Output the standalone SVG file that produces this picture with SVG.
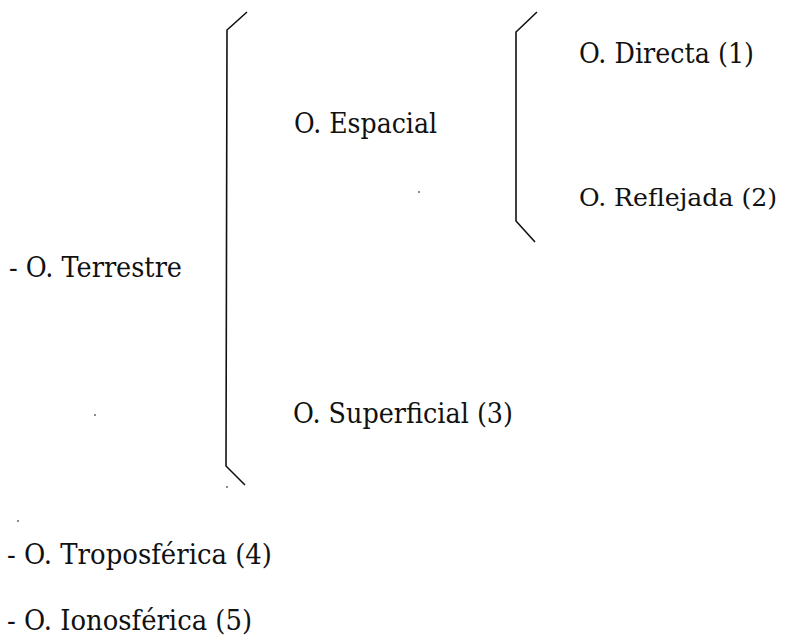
<svg xmlns="http://www.w3.org/2000/svg" width="786" height="643" viewBox="0 0 786 643">
<style>
.t{font-family:"DejaVu Serif","Liberation Serif",serif;font-size:27px;fill:#111}
.s{font-size:25px}
.b{fill:none;stroke:#111;stroke-width:1.6;stroke-linejoin:miter}
.d{fill:#555}
</style>
<rect width="786" height="643" fill="#fff"/>
<g id="connectors">
<path class="b" d="M247,12 L227,30 L226,466 L245,485"/>
<path class="b" d="M537,12 L516,32 L516,221 L535,242"/>
</g>
<g id="terrestre"><text class="t" x="9" y="277" textLength="173" lengthAdjust="spacingAndGlyphs">- O. Terrestre</text></g>
<g id="espacial"><text class="t" x="294" y="133" textLength="143" lengthAdjust="spacingAndGlyphs">O. Espacial</text></g>
<g id="directa"><text class="t" x="579" y="63" textLength="175" lengthAdjust="spacingAndGlyphs">O. Directa (1)</text></g>
<g id="reflejada"><text class="t s" x="579" y="206" textLength="198" lengthAdjust="spacingAndGlyphs">O. Reflejada (2)</text></g>
<g id="superficial"><text class="t" x="293" y="423" textLength="220" lengthAdjust="spacingAndGlyphs">O. Superficial (3)</text></g>
<g id="troposferica"><text class="t" x="7" y="564" textLength="265" lengthAdjust="spacingAndGlyphs">- O. Troposférica (4)</text></g>
<g id="ionosferica"><text class="t" x="7" y="630" textLength="245" lengthAdjust="spacingAndGlyphs">- O. Ionosférica (5)</text></g>
<g id="specks">
<circle class="d" cx="419" cy="192" r="0.9"/>
<circle class="d" cx="95" cy="415" r="0.9"/>
<circle class="d" cx="227" cy="487" r="0.9"/>
<circle class="d" cx="18" cy="521" r="0.9"/>
</g>
</svg>
